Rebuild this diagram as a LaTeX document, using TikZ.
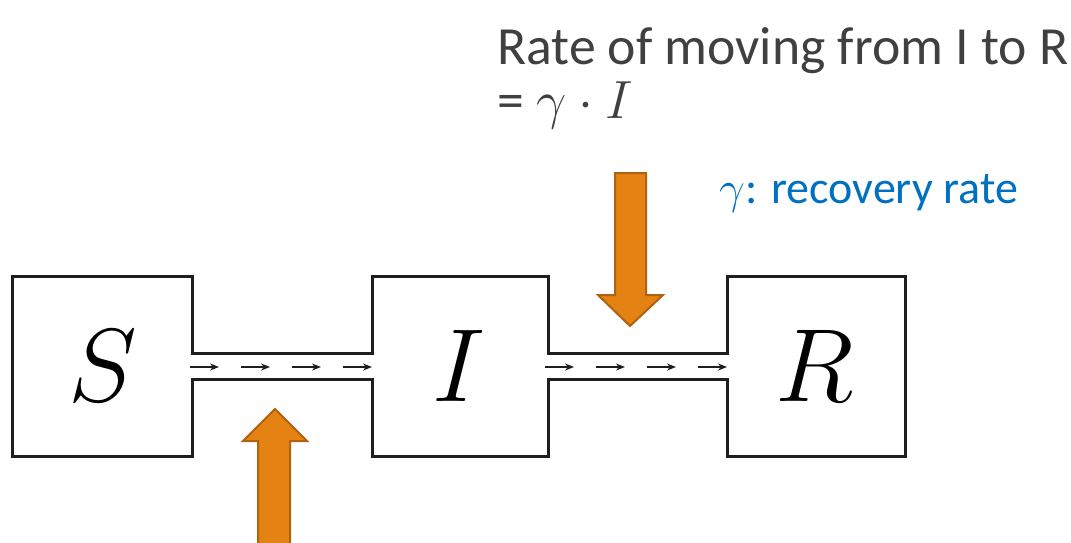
\documentclass[tikz,border=0pt]{standalone}
\usepackage{fix-cm}
\usepackage{fontspec}
\setmainfont{Carlito}
\usetikzlibrary{arrows.meta}
\definecolor{txtgray}{HTML}{404040}
\definecolor{txtblue}{HTML}{0070C0}
\definecolor{orfill}{HTML}{E58214}
\definecolor{ordraw}{HTML}{B0620F}
\definecolor{boxline}{HTML}{1E1E1E}
\tikzset{
  outline/.style={draw=boxline, line width=3pt, line join=miter},
  flowarrow/.style={draw=boxline, line width=1.6pt, -{Stealth[length=9pt,width=7pt]}},
  bigarrow/.style={fill=orfill, draw=ordraw, line width=2pt, line join=miter},
  letter/.style={font=\fontsize{104}{110}\selectfont, inner sep=0pt},
}
\begin{document}
\begin{tikzpicture}[x=1pt,y=-1pt]
\useasboundingbox (0,0) rectangle (1071,542);
% compartments outline
\draw[outline] (192,353) -- (192,276) -- (12,276) -- (12,456) -- (192,456) -- (192,379)
  -- (372,379) -- (372,456) -- (548,456) -- (548,379) -- (727,379) -- (727,456)
  -- (905,456) -- (905,276) -- (727,276) -- (727,353) -- (548,353) -- (548,276)
  -- (372,276) -- (372,353) -- cycle;
% letters
\node[letter] (S) at (103,366) {$S$};
\node[letter] (I) at (459,366) {$I$};
\node[letter] (R) at (815,366) {$R$};
% flow arrows
\foreach \a in {190,241,292,343,545,596,647,698}
  \draw[flowarrow] (\a,367) -- ++(29,0);
% orange arrows
\begin{scope}
\clip (0,0) rectangle (1071,542);
\draw[bigarrow] (258,550) -- (258,441) -- (243,441) -- (275,409) -- (307,441) -- (290,441) -- (290,550) -- cycle;
\end{scope}
\draw[bigarrow] (615,173) -- (646,173) -- (646,295) -- (663,295) -- (630,326) -- (598,295) -- (615,295) -- cycle;
% texts
\node[anchor=base west, inner sep=0pt, text=txtgray, align=left,
      font=\fontsize{53.7}{54}\selectfont] (t1) at (497,118)
  {Rate of moving from I to R\\= $\gamma\cdot I$};
\node[anchor=base west, inner sep=0pt, text=txtblue, font=\fontsize{46}{48}\selectfont] (t3) at (719,203) {$\gamma$: recovery rate};
\end{tikzpicture}
\end{document}
